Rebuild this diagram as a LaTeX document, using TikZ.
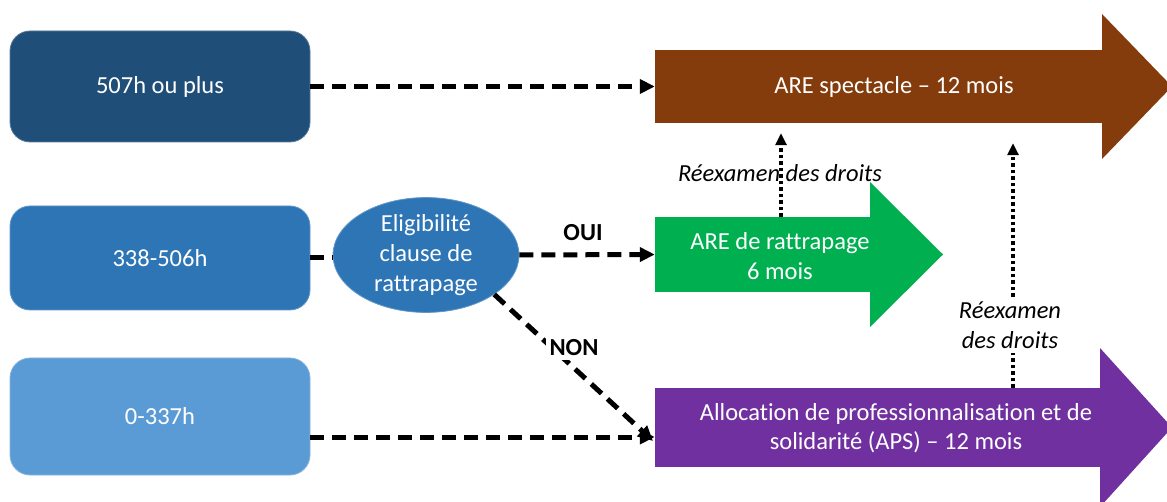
\documentclass[tikz,border=0pt]{standalone}
\usepackage{fontspec}
\setmainfont{Carlito}[Ligatures={NoCommon}]
\usetikzlibrary{arrows.meta,shapes.geometric}
\definecolor{cDark}{HTML}{1F4E79}
\definecolor{cMid}{HTML}{2E75B6}
\definecolor{cLight}{HTML}{5B9BD5}
\definecolor{cBrown}{HTML}{843C0C}
\definecolor{cGreen}{HTML}{00B050}
\definecolor{cPurple}{HTML}{7030A0}
\begin{document}
\begin{tikzpicture}[x=1pt,y=-1pt,
  every node/.style={font=\fontsize{24.5}{30}\selectfont, inner sep=0pt},
  hbox/.style={rounded corners=20pt, minimum width=300pt, text=white, fill=#1, draw=#1!75!white, line width=0.8pt},
  wtext/.style={text=white, align=center},
  dasharrow/.style={line width=5pt, dash pattern=on 14pt off 8pt, -{Triangle[length=15pt,width=14pt]}},
  dashline/.style={line width=5pt, dash pattern=on 14pt off 8pt},
  dotarrow/.style={line width=3.5pt, dash pattern=on 3.5pt off 3pt, -{Triangle[length=12pt,width=11pt]}},
  lbl/.style={align=center, font=\fontsize{24.5}{30}\selectfont\itshape},
  yesno/.style={font=\fontsize{24.5}{30}\selectfont\bfseries, fill=white, inner sep=4pt}
]
\clip (0,0) rectangle (1167,502);
\fill[white] (0,0) rectangle (1167,502);

% left boxes
\node[hbox=cDark, minimum height=111pt, wtext] (box1) at (160,86.5) {507h ou plus};
\node[hbox=cMid, minimum height=104pt, wtext] (box2) at (160,258) {338-506h};
\node[hbox=cLight, minimum height=117pt, wtext] (box3) at (160,416.5) {0-337h};

% ellipse
\node[ellipse, minimum width=186pt, minimum height=110pt, fill=cMid, draw=cMid!75!white, line width=0.8pt, wtext] (ell) at (426,255) {Eligibilité\\clause de\\rattrapage};

% block arrows
\fill[cBrown] (655,50) rectangle (1103,123);
\fill[cBrown] (1102,14) -- (1172,86.5) -- (1102,159) -- cycle;
\node[minimum width=447pt, minimum height=73pt] (brown) at (878.5,86.5) {};
\node[wtext] (brownt) at (894,87) {ARE spectacle – 12 mois};

\fill[cGreen] (655,217) rectangle (871,292);
\fill[cGreen] (870,182) -- (943,254.5) -- (870,327) -- cycle;
\node[minimum width=215pt, minimum height=75pt] (green) at (762.5,254.5) {};
\node[wtext] (greent) at (780,256) {ARE de rattrapage\\6 mois};

\fill[cPurple] (655,388) rectangle (1101,467);
\fill[cPurple] (1100,348) -- (1172,427.5) -- (1100,507) -- cycle;
\node[minimum width=445pt, minimum height=79pt] (purple) at (877.5,427.5) {};
\node[wtext, font=\fontsize{24.5}{29}\selectfont] (purplet) at (896,428) {Allocation de professionnalisation et de\\solidarité (APS) – 12 mois};

% dashed connectors
\draw[dasharrow] (box1.east) -- (brown.west);
\draw[dashline] (box2.east) -- (box2.east -| ell.west);
\draw[dasharrow] (ell.east) -- (green.west);
\coordinate (pnon) at (653,441);
\draw[dasharrow] (ell.-30) -- (pnon);
\draw[dasharrow] ([yshift=-20.5pt]box3.east) -- ([yshift=-9.5pt]purple.west);

% dotted connectors
\draw[dotarrow] ([xshift=18.5pt]green.north) -- ([xshift=-97.5pt,yshift=-10pt]brown.south);
\node[lbl] (re1) at (780,173) {Réexamen des droits};
\draw[dotarrow] ([xshift=135.5pt]purple.north) -- ([xshift=134.5pt,yshift=-20pt]brown.south);
\node[lbl, fill=white, inner sep=5pt] (re2) at (1010,325) {Réexamen\\des droits};

% yes / no labels
\node[yesno] (oui) at (583,233) {OUI};
\node[yesno] (non) at (574,348) {NON};
\end{tikzpicture}
\end{document}
